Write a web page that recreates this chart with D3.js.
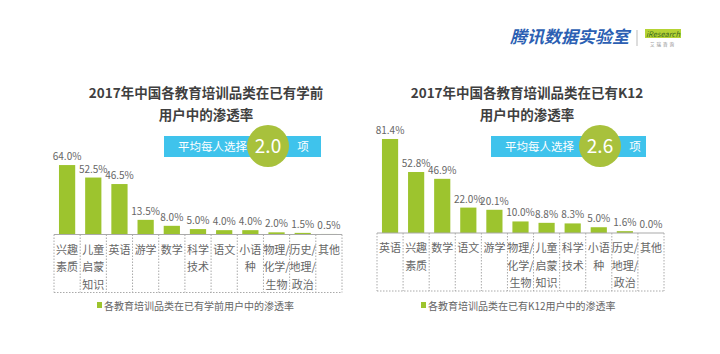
<!DOCTYPE html>
<html>
<head>
<meta charset="utf-8">
<script src="https://d3js.org/d3.v7.min.js"></script>
<style>
  body { margin: 0; background: #fff; }
  text { font-family: "Noto Sans CJK SC", "Noto Sans", sans-serif; }
</style>
</head>
<body>
<script>
const width = 720
const height = 354

const barColor = "#9dc42e"
const badgeBlue = "#3fc3ec"
const badgeGreen = "#a8c13c"
const titleColor = "#3f3f3f"
const textColor = "#666"
const lineColor = "#aaa"

// left chart: pre-school users
const leftTitle = ["2017年中国各教育培训品类在已有学前", "用户中的渗透率"]
const leftCategories = ["兴趣|素质", "儿童|启蒙|知识", "英语", "游学", "数学", "科学|技术", "语文", "小语|种", "物理/|化学/|生物", "历史/|地理/|政治", "其他"]
const leftValues = [64.0, 52.5, 46.5, 13.5, 8.0, 5.0, 4.0, 4.0, 2.0, 1.5, 0.5]
const leftAverage = "2.0"
const leftLegend = "各教育培训品类在已有学前用户中的渗透率"

// right chart: K12 users
const rightTitle = ["2017年中国各教育培训品类在已有K12", "用户中的渗透率"]
const rightCategories = ["英语", "兴趣|素质", "数学", "语文", "游学", "物理/|化学/|生物", "儿童|启蒙|知识", "科学|技术", "小语|种", "历史/|地理/|政治", "其他"]
const rightValues = [81.4, 52.8, 46.9, 22.0, 20.1, 10.0, 8.8, 8.3, 5.0, 1.6, 0.0]
const rightAverage = "2.6"
const rightLegend = "各教育培训品类在已有K12用户中的渗透率"

const svg = d3.select("body").append("svg").attr("width", width).attr("height", height)

function drawChart(cfg) {
    const g = svg.append("g")
    const x = d3.scaleBand().domain(cfg.categories).range([cfg.left, cfg.right]).padding(0)
    const y = d3.scaleLinear().domain([0, 100]).range([cfg.baseline, cfg.baseline - cfg.pxPer100])
    const bw = x.bandwidth() * 0.62

    // title
    cfg.title.forEach((t, i) => {
        g.append("text").attr("x", cfg.titleX).attr("y", 98 + i * 22)
            .attr("text-anchor", "middle").attr("font-size", 13.5).attr("font-weight", "bold")
            .attr("fill", titleColor).text(t)
    })

    // average badge
    g.append("rect").attr("x", cfg.badgeX).attr("y", 136).attr("width", cfg.badgeW).attr("height", 21)
        .attr("fill", badgeBlue)
    g.append("text").attr("x", cfg.badgeX + 14).attr("y", 151).attr("font-size", 11.5)
        .attr("fill", "#fff").text("平均每人选择")
    g.append("circle").attr("cx", cfg.circleX).attr("cy", 146).attr("r", 21).attr("fill", badgeGreen)
    g.append("text").attr("x", cfg.circleX).attr("y", 153).attr("text-anchor", "middle")
        .attr("font-size", 19).attr("fill", "#fff").text(cfg.average)
    g.append("text").attr("x", cfg.circleX + 35).attr("y", 151).attr("text-anchor", "middle")
        .attr("font-size", 11.5).attr("fill", "#fff").text("项")

    // bars
    const data = cfg.categories.map((c, i) => ({ cat: c, value: cfg.values[i] }))
    g.selectAll(".bar").data(data).enter().append("rect")
        .attr("class", "bar")
        .attr("x", d => x(d.cat) + (x.bandwidth() - bw) / 2)
        .attr("y", d => y(d.value))
        .attr("width", bw)
        .attr("height", d => y(0) - y(d.value))
        .attr("fill", barColor)
    g.selectAll(".lbl").data(data).enter().append("text")
        .attr("class", "lbl")
        .attr("x", d => x(d.cat) + x.bandwidth() / 2)
        .attr("y", d => y(d.value) - 5)
        .attr("text-anchor", "middle").attr("font-size", 10).attr("fill", textColor)
        .text(d => d.value.toFixed(1) + "%")

    // table of categories
    const tableBottom = cfg.baseline + 58
    g.append("line").attr("x1", cfg.left).attr("x2", cfg.right).attr("y1", y(0)).attr("y2", y(0))
        .attr("stroke", lineColor).attr("stroke-width", 1.2)
    g.append("line").attr("x1", cfg.left).attr("x2", cfg.right).attr("y1", tableBottom).attr("y2", tableBottom)
        .attr("stroke", lineColor).attr("stroke-dasharray", "1.5 1.5")
    const edges = cfg.categories.map(c => x(c)).concat([cfg.right])
    g.selectAll(".sep").data(edges).enter().append("line")
        .attr("x1", d => d).attr("x2", d => d).attr("y1", y(0)).attr("y2", tableBottom)
        .attr("stroke", lineColor).attr("stroke-dasharray", "1.5 1.5")
    data.forEach(d => {
        d.cat.split("|").forEach((line, j) => {
            g.append("text").attr("x", x(d.cat) + x.bandwidth() / 2).attr("y", y(0) + 19 + j * 17.5)
                .attr("text-anchor", "middle").attr("font-size", 11).attr("fill", textColor).text(line)
        })
    })

    // legend
    g.append("rect").attr("x", cfg.legendX).attr("y", 302).attr("width", 5).attr("height", 6).attr("fill", barColor)
    g.append("text").attr("x", cfg.legendX + 7).attr("y", 309.5).attr("font-size", 10)
        .attr("fill", textColor).text(cfg.legend)
}

drawChart({
    categories: leftCategories, values: leftValues, title: leftTitle, average: leftAverage, legend: leftLegend,
    left: 54, right: 342, baseline: 234.5, pxPer100: 108.5,
    titleX: 206, badgeX: 164, badgeW: 157, circleX: 268, legendX: 97
})
drawChart({
    categories: rightCategories, values: rightValues, title: rightTitle, average: rightAverage, legend: rightLegend,
    left: 377, right: 664, baseline: 233, pxPer100: 115.5,
    titleX: 527, badgeX: 491, badgeW: 155, circleX: 600, legendX: 421
})

// brand header
svg.append("text").attr("x", 510).attr("y", 43).attr("font-size", 17).attr("font-weight", "bold")
    .attr("font-style", "italic").attr("fill", "#2c5fb3").text("腾讯数据实验室")
svg.append("line").attr("x1", 637).attr("x2", 637).attr("y1", 30).attr("y2", 46).attr("stroke", "#bbb")
svg.append("rect").attr("x", 645).attr("y", 29).attr("width", 36).attr("height", 9).attr("fill", "#b5d334")
svg.append("text").attr("x", 663).attr("y", 36.5).attr("text-anchor", "middle").attr("font-size", 7.5)
    .attr("font-style", "italic").attr("fill", "#3d6b1f").text("iResearch")
svg.append("text").attr("x", 663).attr("y", 46).attr("text-anchor", "middle").attr("font-size", 4.5)
    .attr("letter-spacing", 2).attr("fill", "#888").text("艾瑞咨询")
</script>
</body>
</html>
